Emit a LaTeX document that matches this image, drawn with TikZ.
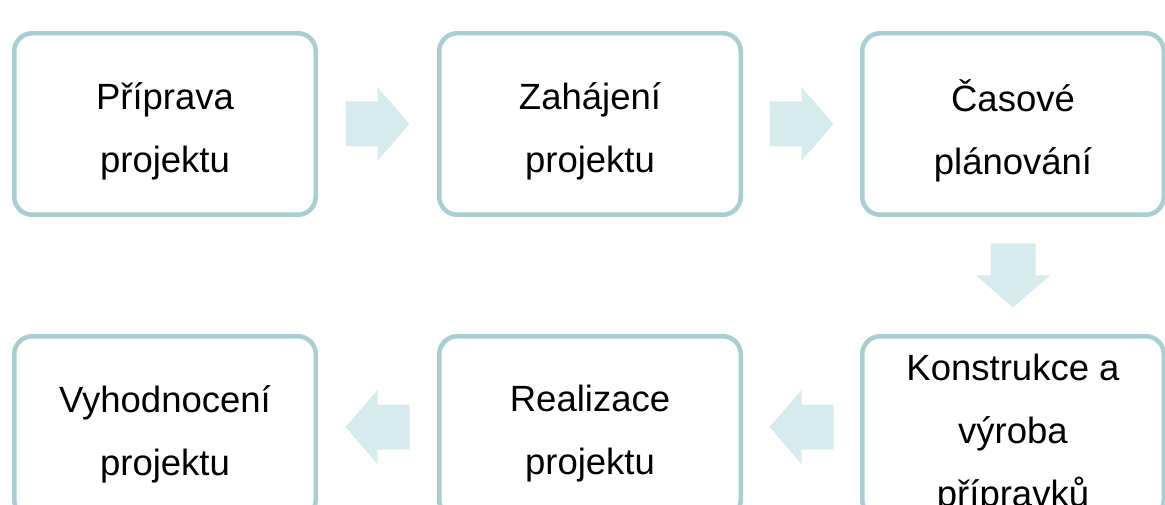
\documentclass[tikz,border=0pt]{standalone}
\usepackage{fontspec}
\setmainfont{Liberation Sans}
\usetikzlibrary{calc}
\definecolor{boxborder}{RGB}{168,206,210}
\definecolor{arrowfill}{RGB}{214,235,238}
\tikzset{
  stepbox/.style={draw=boxborder, line width=4.5pt, rounded corners=18pt, fill=white,
    minimum width=301.5pt, minimum height=181.5pt, inner sep=0pt},
  boxtext/.style={inner sep=0pt, align=center, text=black,
    font=\fontsize{36.5}{63}\selectfont},
  blockarr/.pic={\fill[arrowfill] (-32,-22.5) -- (0,-22.5) -- (0,-37) -- (32,0) -- (0,37) -- (0,22.5) -- (-32,22.5) -- cycle;}
}
\begin{document}
\begin{tikzpicture}[x=1pt,y=1pt]
\useasboundingbox (0,0) rectangle (1165,504);
\clip (0,0) rectangle (1165,504);
\node[stepbox] (p1) at (165,380) {};
\node[stepbox] (p2) at (590,380) {};
\node[stepbox] (p3) at (1013,380) {};
\node[stepbox] (p4) at (1013,77) {};
\node[stepbox] (p5) at (590,77) {};
\node[stepbox] (p6) at (165,77) {};
\node[boxtext] (t1) at ([yshift=-7pt]p1.center) {Příprava\\projektu};
\node[boxtext] (t2) at ([yshift=-7pt]p2.center) {Zahájení\\projektu};
\node[boxtext] (t3) at ([yshift=-7pt]p3.center) {Časové\\plánování};
\node[boxtext] (t4) at ([yshift=-7pt]p4.center) {Konstrukce a\\výroba\\přípravků};
\node[boxtext] (t5) at ([yshift=-7pt]p5.center) {Realizace\\projektu};
\node[boxtext] (t6) at ([yshift=-7pt]p6.center) {Vyhodnocení\\projektu};
\coordinate (m12) at ($(p1.east)!0.5!(p2.west)$);
\coordinate (m23) at ($(p2.east)!0.5!(p3.west)$);
\coordinate (m34) at ($(p3.south)!0.5!(p4.north)$);
\coordinate (m45) at ($(p4.west)!0.5!(p5.east)$);
\coordinate (m56) at ($(p5.west)!0.5!(p6.east)$);
\pic at (m12) {blockarr};
\pic at (m23) {blockarr};
\pic[rotate=-90] at (m34) {blockarr};
\pic[rotate=180] at (m45) {blockarr};
\pic[rotate=180] at (m56) {blockarr};
\end{tikzpicture}
\end{document}
